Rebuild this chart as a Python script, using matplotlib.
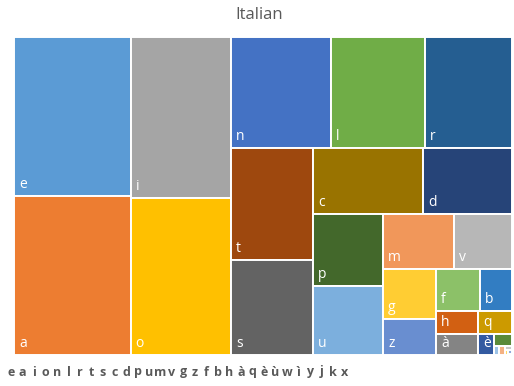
import matplotlib.pyplot as plt
from matplotlib.patches import Rectangle

# Italian letter frequencies (%)
letters = ['e', 'a', 'i', 'o', 'n', 'l', 'r', 't', 's', 'c', 'd', 'p', 'u', 'm', 'v',
           'g', 'z', 'f', 'b', 'h', 'à', 'q', 'è', 'ù', 'w', 'ì', 'y', 'j', 'k', 'x']
freqs = [11.68, 11.62, 10.2, 9.9, 6.95, 6.55, 6.1, 5.75, 4.89, 4.6,
         3.7, 3.15, 3.04, 2.42, 2.0, 1.67, 1.19, 1.16, 0.83, 0.6,
         0.56, 0.5, 0.21, 0.13, 0.03, 0.03, 0.02, 0.01, 0.01, 0.003]
colors = ['#5B9BD5', '#ED7D31', '#A5A5A5', '#FFC000', '#4472C4', '#70AD47',
          '#255E91', '#9E480E', '#636363', '#997300', '#264478', '#43682B',
          '#7CAFDD', '#F1975A', '#B7B7B7', '#FFCD33', '#698ED0', '#8CC168',
          '#327DC2', '#D26012', '#848484', '#CC9A00', '#335AA1', '#5A8A39',
          '#9DC3E6', '#F4B183', '#C9C9C9', '#FFD966', '#8FAADC', '#A9D18E']

W, H = 498.0, 318.0


def worst(row, side):
    s = sum(row)
    return max(max(side * side * r / (s * s), s * s / (side * side * r)) for r in row)


def squarify(values, x, y, w, h):
    # values are areas, already scaled to w*h
    rects = []
    vals = list(values)
    while vals:
        side = min(w, h)
        row = [vals.pop(0)]
        while vals and worst(row + [vals[0]], side) <= worst(row, side):
            row.append(vals.pop(0))
        s = sum(row)
        if w >= h:
            # column on the left
            cw = s / h
            cy = y
            for r in row:
                rh = r / cw
                rects.append((x, cy, cw, rh))
                cy += rh
            x += cw
            w -= cw
        else:
            # row along the top
            rh = s / w
            cx = x
            for r in row:
                rw = r / rh
                rects.append((cx, y, rw, rh))
                cx += rw
            y += rh
            h -= rh
    return rects


total = sum(freqs)
areas = [f / total * W * H for f in freqs]
rects = squarify(areas, 0, 0, W, H)

plt.rcParams['font.family'] = ['Open Sans', 'DejaVu Sans']
fig = plt.figure(figsize=(5.14, 3.86), dpi=100)
ax = fig.add_axes([14 / 514, 31 / 386, W / 514, H / 386])
ax.set_xlim(0, W)
ax.set_ylim(H, 0)
ax.axis('off')

for (rx, ry, rw, rh), lab, col in zip(rects, letters, colors):
    patch = Rectangle((rx, ry), rw, rh, facecolor=col, edgecolor='white', linewidth=1.4)
    ax.add_patch(patch)
    if rw > 7 and rh > 14:
        t = ax.text(rx + 5, ry + rh - 8, lab, color='white', fontsize=10,
                    ha='left', va='baseline')
        t.set_clip_path(patch)

fig.text(259 / 514, 1 - 15 / 386, 'Italian', ha='center', va='center',
         fontsize=12, color='#595959')

# legend letters along the bottom
for i, lab in enumerate(letters):
    fig.text((11 + i * 11.5) / 514, 1 - 372 / 386, lab, ha='center', va='center',
             fontsize=9, fontweight='bold', color='#595959')

fig.savefig('out.png', dpi=100, facecolor='white')
